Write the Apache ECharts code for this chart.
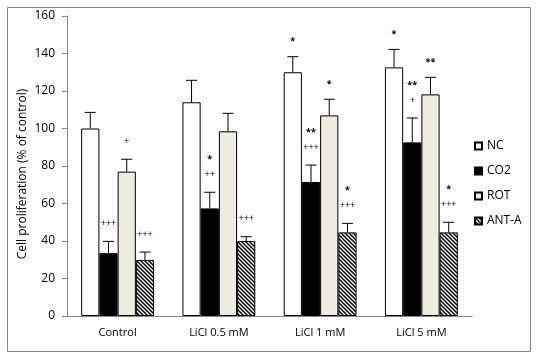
<!DOCTYPE html>
<html><head><meta charset="utf-8">
<script src="https://cdn.jsdelivr.net/npm/echarts@6/dist/echarts.min.js"></script>
<style>html,body{margin:0;padding:0;background:#fff}#c{width:538px;height:359px}</style>
</head><body><div id="c"></div>
<script>
// ---- data ----
const categories = ['Control', 'LiCl 0.5 mM', 'LiCl 1 mM', 'LiCl 5 mM'];
const seriesNames = ['NC', 'CO2', 'ROT', 'ANT-A'];
const ncValues   = [100, 114, 130, 132.6];
const co2Values  = [33.5, 57.4, 71.5, 92.6];
const rotValues  = [77, 98.5, 107, 118.2];
const antValues  = [29.9, 40, 44.6, 44.6];
const ncErr  = [8.6, 11.7, 8.3, 9.6];
const co2Err = [6.3, 8.6, 9.0, 13];
const rotErr = [6.6, 9.6, 8.6, 9.1];
const antErr = [4.2, 2.3, 4.8, 5.4];
// significance marks, listed bottom to top
const ncSig  = [[], [], ['*'], ['*']];
const co2Sig = [['+++'], ['++', '*'], ['+++', '**'], ['+', '**']];
const rotSig = [['+'], [], ['*'], ['**']];
const antSig = [['+++'], ['+++'], ['+++', '*'], ['+++', '*']];
const yTicks = {min: 0, max: 160, interval: 20};

// ---- hatch pattern ----
function hatch() {
  const c = document.createElement('canvas');
  c.width = 4; c.height = 4;
  const g = c.getContext('2d');
  g.fillStyle = '#fff'; g.fillRect(0, 0, 4, 4);
  g.strokeStyle = '#000'; g.lineWidth = 1.5;
  for (let k = -4; k <= 4; k += 4) {
    g.beginPath(); g.moveTo(k - 1, -1); g.lineTo(k + 5, 5); g.stroke();
  }
  return c;
}

const FONT = '"Open Sans", sans-serif';
const valuesList = [ncValues, co2Values, rotValues, antValues];
const errList = [ncErr, co2Err, rotErr, antErr];
const sigList = [ncSig, co2Sig, rotSig, antSig];
const styles = [
  {color: '#ffffff', borderColor: '#000', borderWidth: 1},
  {color: '#000000', borderColor: '#000', borderWidth: 1},
  {color: '#EEECE1', borderColor: '#000', borderWidth: 1},
  {color: {image: hatch(), repeat: 'repeat'}, borderColor: '#000', borderWidth: 1}
];
const CAT_GAP = 0.28;

const series = [];
seriesNames.forEach((name, i) => {
  series.push({
    name: name, type: 'bar', data: valuesList[i],
    barGap: '0%', barCategoryGap: (CAT_GAP * 100) + '%',
    itemStyle: styles[i], animation: false
  });
});
seriesNames.forEach((name, i) => {
  const data = valuesList[i].map((v, j) => [j, v + errList[i][j], v]);
  series.push({
    type: 'custom', animation: false, silent: true, z: 5,
    data: data,
    renderItem: function (params, api) {
      const j = api.value(0);
      const band = api.size([1, 0])[0];
      const bw = band * (1 - CAT_GAP) / 4;
      const cx = api.coord([j, 0])[0] - 2 * bw + bw * (i + 0.5);
      const yTop = api.coord([j, api.value(1)])[1];
      const yBar = api.coord([j, api.value(2)])[1];
      const children = [
        {type: 'line', shape: {x1: cx, y1: yBar, x2: cx, y2: yTop}, style: {stroke: '#000', lineWidth: 1}},
        {type: 'line', shape: {x1: cx - 5.5, y1: yTop, x2: cx + 5.5, y2: yTop}, style: {stroke: '#000', lineWidth: 1}}
      ];
      sigList[i][j].forEach((s, k) => {
        const isStar = s.indexOf('*') >= 0;
        children.push({
          type: 'text',
          style: {
            text: s, x: cx, y: yTop - 18 - 17.5 * k + (isStar ? 3 : 0),
            align: 'center', verticalAlign: 'middle',
            font: (isStar ? 'bold ' : '') + '9px ' + FONT, fill: '#000'
          }
        });
      });
      return {type: 'group', children: children};
    }
  });
});

const chart = echarts.init(document.getElementById('c'), null, {renderer: 'canvas'});
chart.setOption({
  backgroundColor: '#fff',
  animation: false,
  grid: {left: 67, right: 66, top: 16, bottom: 43, containLabel: false},
  legend: {
    orient: 'vertical', left: 469, top: 135,
    icon: 'rect',
    itemWidth: 7, itemHeight: 7, itemGap: 13,
    data: seriesNames,
    textStyle: {fontFamily: FONT, fontSize: 12, color: '#000'},
    selectedMode: false
  },
  xAxis: {
    type: 'category', data: categories,
    axisLine: {lineStyle: {color: '#868686'}},
    axisTick: {length: 5, lineStyle: {color: '#868686'}},
    axisLabel: {fontFamily: FONT, fontSize: 11, color: '#000', margin: 11}
  },
  yAxis: {
    type: 'value', min: yTicks.min, max: yTicks.max, interval: yTicks.interval,
    splitLine: {show: false},
    axisLine: {show: true, lineStyle: {color: '#868686'}},
    axisTick: {show: true, length: 5, lineStyle: {color: '#868686'}},
    axisLabel: {fontFamily: FONT, fontSize: 12, color: '#000', margin: 12}
  },
  graphic: [
    {type: 'rect', shape: {x: 7.5, y: 7.5, width: 523, height: 344}, style: {fill: 'none', stroke: '#868686', lineWidth: 1}, silent: true},
    {type: 'text', x: 23, y: 174, rotation: Math.PI / 2,
     style: {text: 'Cell proliferation (% of control)', font: '12px ' + FONT, fill: '#000', align: 'center', verticalAlign: 'middle'}}
  ],
  series: series
});
</script>
</body></html>
